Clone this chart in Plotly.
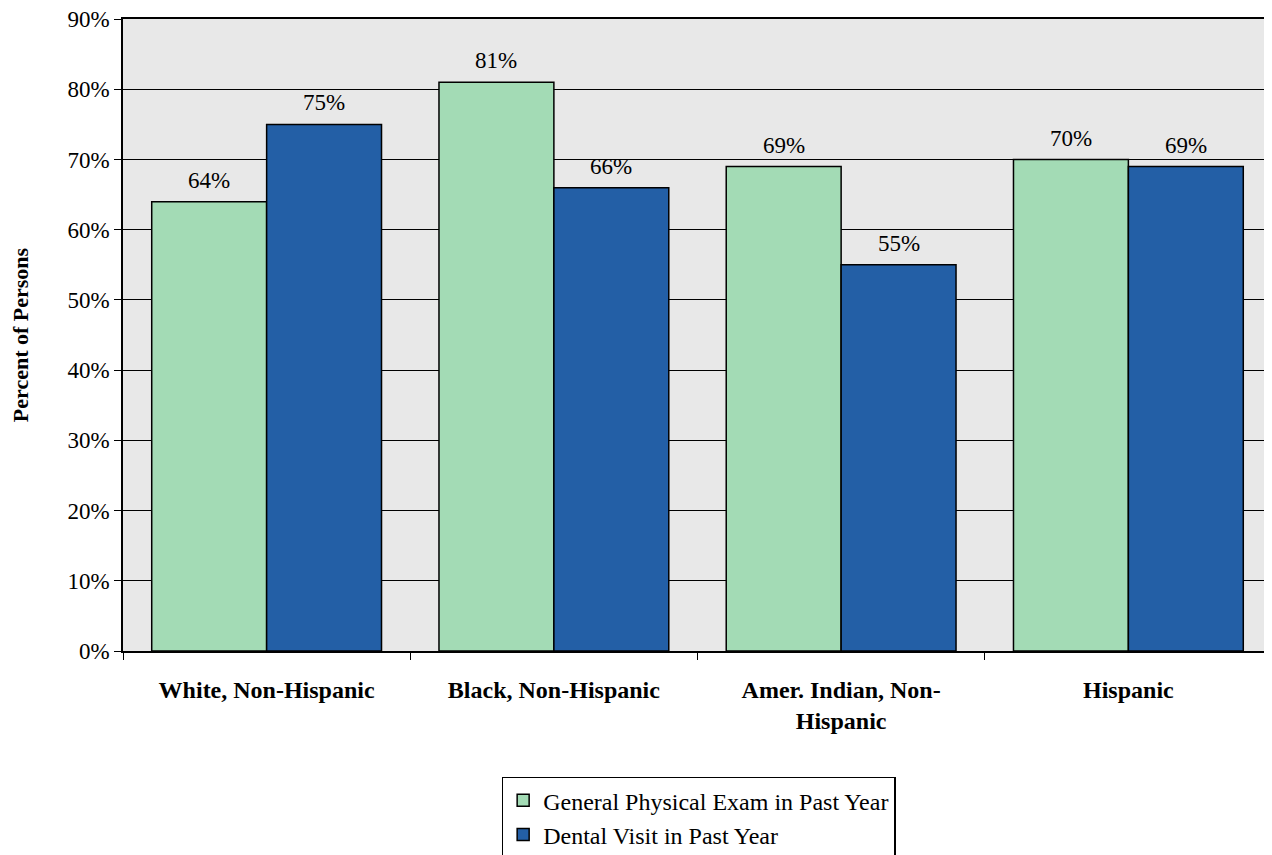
import plotly.graph_objects as go

categories = ["White, Non-Hispanic", "Black, Non-Hispanic", "Amer. Indian, Non-<br>Hispanic", "Hispanic"]
physical_exam = [64, 81, 69, 70]
dental_visit = [75, 66, 55, 69]
series_names = ["General Physical Exam in Past Year", "Dental Visit in Past Year"]
y_ticks = [0, 10, 20, 30, 40, 50, 60, 70, 80, 90]

GREEN = "#A3DBB5"
BLUE = "#235FA6"
FONT = "Liberation Serif"

fig = go.Figure()
for name, vals, color in [(series_names[0], physical_exam, GREEN), (series_names[1], dental_visit, BLUE)]:
    fig.add_trace(go.Bar(
        x=categories, y=vals, name=name,
        marker=dict(color=color, line=dict(color="black", width=1.5)),
        offsetgroup=name,
    ))

# value labels above bars
for i, vals in enumerate([physical_exam, dental_visit]):
    for j, v in enumerate(vals):
        fig.add_annotation(
            x=j, y=v, text=f"{v}%", showarrow=False,
            xref="x", yref="y", yanchor="bottom",
            xshift=(-1 if i == 0 else 1) * 57.5, yshift=7,
            font=dict(family=FONT, size=23, color="black"),
        )

# page body has an 8px margin, so the figure is shrunk to fit the window
fig.update_layout(
    width=1264, height=847,
    margin=dict(l=115, r=0, t=11, b=204, autoexpand=False),
    paper_bgcolor="white",
    plot_bgcolor="#E8E8E8",
    barmode="group",
    bargap=0.2,
    bargroupgap=0,
    font=dict(family=FONT, size=23, color="black"),
    showlegend=True,
    legend=dict(
        x=0.501, y=-0.199, xanchor="center", yanchor="top",
        orientation="v",
        bordercolor="black", borderwidth=1.5,
        bgcolor="white",
        font=dict(family=FONT, size=24, color="black"),
        tracegroupgap=8,
    ),
)

fig.update_xaxes(
    type="category",
    tickson="boundaries",
    ticks="outside", ticklen=7, tickcolor="black",
    showline=True, linecolor="black", linewidth=1.5,
    mirror=True,  # gives the dark line along the 90% edge
    showgrid=False,
    tickfont=dict(family=FONT, size=24, color="black", weight="bold"),
    ticklabelstandoff=16,
    range=[-0.5, 3.5],
)

fig.update_yaxes(
    range=[0, 90.02],
    tickvals=y_ticks,
    ticktext=[f"{t}%" for t in y_ticks],
    ticklabeloverflow="allow",
    ticks="outside", ticklen=7, tickcolor="black",
    showline=True, linecolor="black", linewidth=1.5,
    showgrid=True, gridcolor="black", gridwidth=1,
    zeroline=False,
    tickfont=dict(family=FONT, size=23, color="black"),
    title=dict(text="<b>Percent of Persons</b>", font=dict(family=FONT, size=22, color="black"), standoff=36),
)

fig.write_html("out.html")
